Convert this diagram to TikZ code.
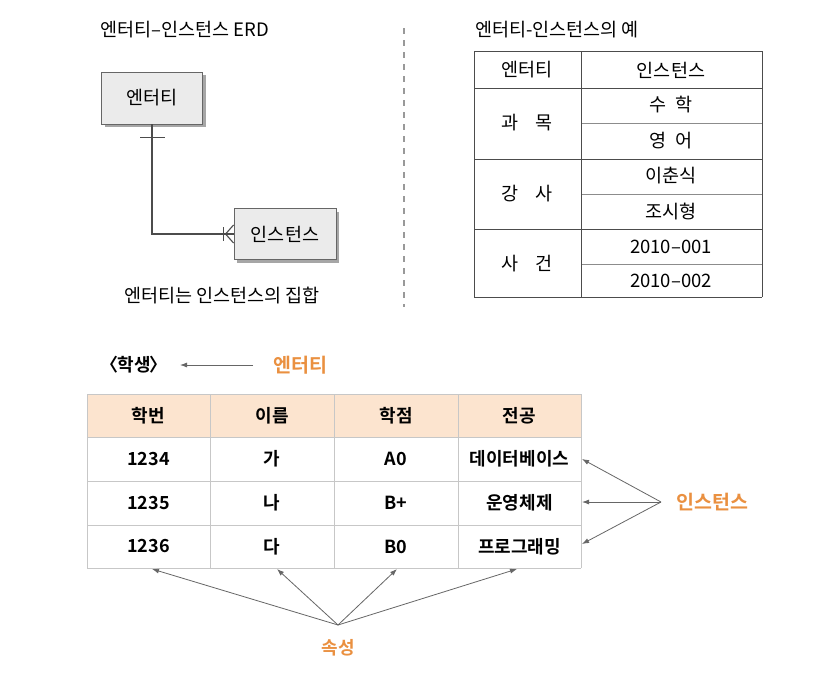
\documentclass[tikz,border=0pt]{standalone}
\usepackage{fontspec}
\setmainfont{Noto Sans CJK KR}
\newfontfamily\krb{Noto Sans CJK KR Bold}
\usetikzlibrary{arrows.meta,shadows,calc}
\definecolor{orng}{HTML}{EA9040}
\definecolor{peach}{HTML}{FCE4CF}
\definecolor{boxfill}{HTML}{EBEBEB}
\tikzset{
  erdbox/.style={draw=black!60, fill=boxfill, line width=0.9pt, inner sep=0pt,
    font=\fontsize{18.5}{20}\selectfont,
    drop shadow={shadow xshift=3pt, shadow yshift=-3pt, fill=black!35, opacity=1}},
  erdline/.style={draw=black!70, line width=1.1pt},
  txt/.style={inner sep=0pt, font=\fontsize{18.5}{20}\selectfont},
  btxt/.style={inner sep=0pt, font=\krb\fontsize{18}{20}\selectfont},
  otxt/.style={inner sep=0pt, text=orng, font=\krb\fontsize{19.5}{21}\selectfont},
  grid1/.style={draw=black!70, line width=0.9pt},
  grid2/.style={draw=black!45, line width=0.9pt},
  grid3/.style={draw=black!22, line width=1pt},
  arr/.style={draw=black!60, line width=0.8pt, -{Latex[length=7pt,width=5pt]}},
  divider/.style={draw=black!40, line width=1.2pt, dash pattern=on 6pt off 6pt}
}
\begin{document}
\begin{tikzpicture}[x=1pt,y=-1pt]
\useasboundingbox (0,0) rectangle (827,675);
\fill[white] (0,0) rectangle (827,675);

% ---------- ERD (top left) ----------
\node[txt, anchor=west] (t1) at (100,30) {엔터티–인스턴스 ERD};
\node[erdbox, minimum width=101pt, minimum height=52pt] (ent) at (152,98) {엔터티};
\node[erdbox, minimum width=102pt, minimum height=51pt] (inst) at (285,234) {인스턴스};
\draw[erdline] (ent.south) |- (inst.west);
\draw[erdline] ($(ent.south)+(-12,13)$) -- ++(25,0);
\draw[erdline] ($(inst.west)+(-10,-7)$) -- ++(0,14);
\draw[erdline] ($(inst.west)+(-8,0)$) -- ($(inst.west)+(0,-9)$);
\draw[erdline] ($(inst.west)+(-8,0)$) -- ($(inst.west)+(0,9)$);
\node[txt] (cap) at (222,296) {엔터티는 인스턴스의 집합};

% ---------- divider ----------
\draw[divider] (404,28) -- (404,307);

% ---------- example table (top right) ----------
\node[txt, anchor=west] (t2) at (475,30) {엔터티-인스턴스의 예};
\foreach \y in {51,88,159,229,297} \draw[grid1] (474,\y) -- (762,\y);
\foreach \y in {123,194,264} \draw[grid2] (581,\y) -- (762,\y);
\foreach \x in {474,581,762} \draw[grid1] (\x,51) -- (\x,297);
\node[txt] (h1) at (527,70) {엔터티};
\node[txt] (h2) at (671,70) {인스턴스};
\node[txt] (e1) at (527,123) {과\hspace{0.9em}목};
\node[txt] (i1) at (671,105) {수\hspace{0.45em}학};
\node[txt] (i2) at (671,141) {영\hspace{0.45em}어};
\node[txt] (e2) at (527,194) {강\hspace{0.9em}사};
\node[txt] (i3) at (671,176) {이춘식};
\node[txt] (i4) at (671,212) {조시형};
\node[txt] (e3) at (527,264) {사\hspace{0.9em}건};
\node[txt] (i5) at (671,247) {2010–001};
\node[txt] (i6) at (671,281) {2010–002};

% ---------- student table (bottom) ----------
\node[btxt] (stu) at (134,365) {\kern-0.45em〈\kern-0.05em학생\kern-0.05em〉\kern-0.45em};
\node[otxt, anchor=west] (entl) at (273,365) {엔터티};
\coordinate (ea) at (253,365);
\coordinate (eb) at (180,365);
\draw[arr] (ea) -- (eb);

\fill[peach] (87,394) rectangle (581,437);
\foreach \y in {394,437,481,525,568} \draw[grid3] (87,\y) -- (581,\y);
\foreach \x in {87,210,334,458,581} \draw[grid3] (\x,394) -- (\x,568);

\node[btxt] (b11) at (148.5,415.5) {학번};
\node[btxt] (b12) at (272,415.5) {이름};
\node[btxt] (b13) at (396,415.5) {학점};
\node[btxt] (b14) at (519.5,415.5) {전공};
\node[btxt] (b21) at (148.5,459) {1234};
\node[btxt] (b22) at (272,459) {가};
\node[btxt] (b23) at (396,459) {A0};
\node[btxt] (b24) at (519.5,459) {데이터베이스};
\node[btxt] (b31) at (148.5,503) {1235};
\node[btxt] (b32) at (272,503) {나};
\node[btxt] (b33) at (396,503) {B+};
\node[btxt] (b34) at (519.5,503) {운영체제};
\node[btxt] (b41) at (148.5,546.5) {1236};
\node[btxt] (b42) at (272,546.5) {다};
\node[btxt] (b43) at (396,546.5) {B0};
\node[btxt] (b44) at (519.5,546.5) {프로그래밍};

% instance arrows
\node[otxt, anchor=west] (instl) at (676,502) {인스턴스};
\coordinate (io) at (661,502);
\coordinate (it1) at (582,459);
\coordinate (it2) at (582,502);
\coordinate (it3) at (582,544);
\draw[arr] (io) -- (it1);
\draw[arr] (io) -- (it2);
\draw[arr] (io) -- (it3);

% attribute arrows
\node[otxt, font=\krb\fontsize{18}{20}\selectfont] (attl) at (338,648) {속성};
\coordinate (ao) at (338,625);
\coordinate (at1) at (152,569);
\coordinate (at2) at (277,569);
\coordinate (at3) at (397,569);
\coordinate (at4) at (517,569);
\draw[arr] (ao) -- (at1);
\draw[arr] (ao) -- (at2);
\draw[arr] (ao) -- (at3);
\draw[arr] (ao) -- (at4);
\end{tikzpicture}
\end{document}
